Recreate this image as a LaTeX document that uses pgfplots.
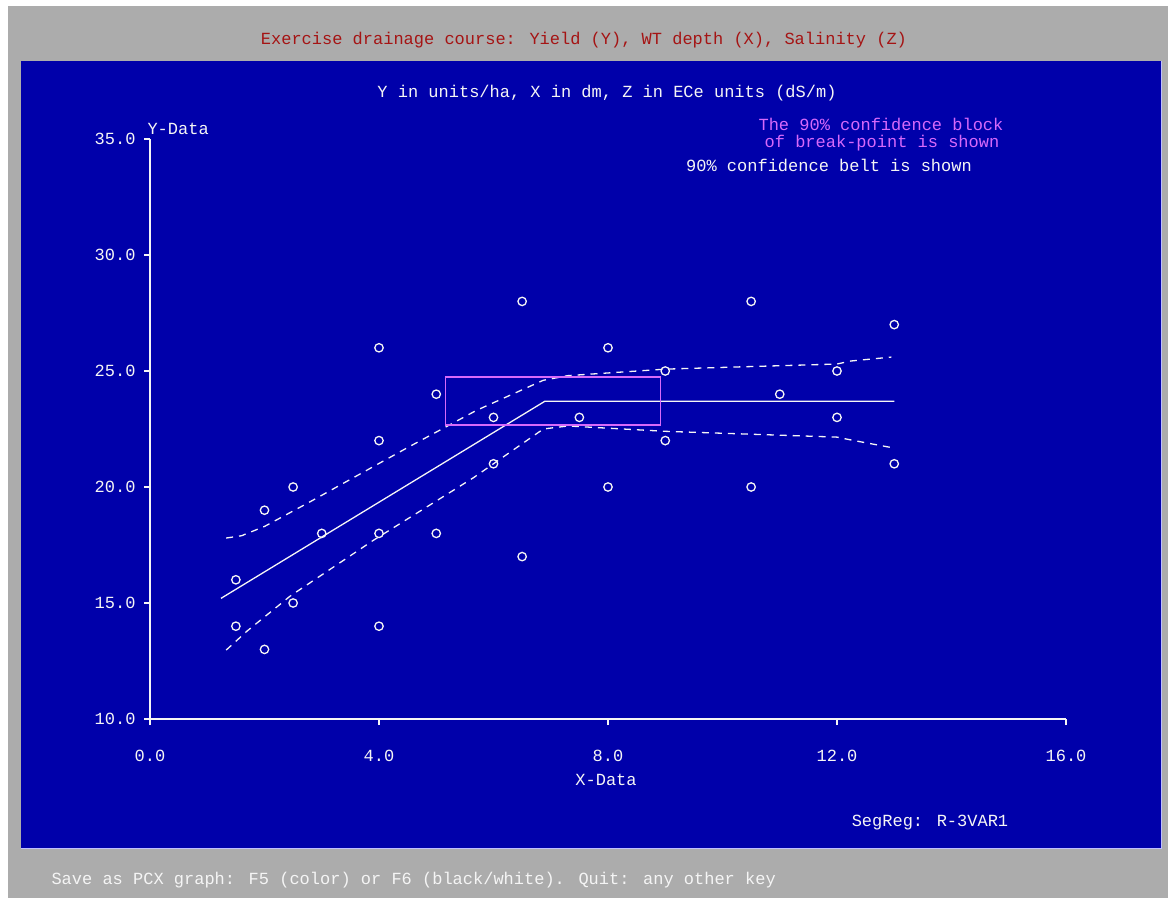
\documentclass[border=0pt]{standalone}
\usepackage{pgfplots}
\pgfplotsset{compat=1.18}
\usepackage{fontspec}
\setmainfont{Liberation Mono}
\definecolor{egablue}{RGB}{0,0,170}
\definecolor{egagray}{RGB}{172,172,172}
\definecolor{egared}{RGB}{165,20,20}
\definecolor{egamag}{RGB}{215,105,250}
\definecolor{egawhite}{RGB}{245,245,245}
\newcommand{\pf}{\fontsize{17}{20}\selectfont}
\begin{document}
\begin{tikzpicture}
\begin{scope}[x=1pt,y=1pt]
\fill[white] (0,0) rectangle (1168,898);
\fill[egagray] (8,0) rectangle (1168,892);
\fill[egablue] (21,50) rectangle (1161,837);
\draw[white!75!blue, line width=1.5pt] (21,49.5) -- (1161.5,49.5) -- (1161.5,837);
\node[egared, font=\pf] at (584,858) {Exercise drainage course: Yield (Y), WT depth (X), Salinity (Z)};
\node[egawhite, font=\pf] at (607,805) {Y in units/ha, X in dm, Z in ECe units (dS/m)};
\node[egawhite, font=\pf, anchor=west] at (144,769) {Y-Data};
\node[egamag, font=\pf] at (881,774) {The 90\% confidence block};
\node[egamag, font=\pf] at (882,755) {of break-point is shown};
\node[egawhite, font=\pf] at (829,733) {90\% confidence belt is shown};
\node[egawhite, font=\pf] at (606,118) {X-Data};
\node[egawhite, font=\pf] at (930,75) {SegReg: R-3VAR1};
\node[egawhite, font=\pf, anchor=west] at (48,18) {Save as PCX graph: F5 (color) or F6 (black/white). Quit: any other key};
\end{scope}
\begin{axis}[
  at={(150pt,179pt)}, anchor=south west,
  scale only axis, width=916pt, height=580pt,
  xmin=0, xmax=16, ymin=10, ymax=35,
  axis x line=bottom, axis y line=left,
  axis line style={-, egawhite, line width=1.5pt},
  xtick={0,4,8,12,16}, ytick={10,15,20,25,30,35},
  tick style={egawhite, line width=1.5pt},
  tick align=outside, major tick length=6pt,
  clip=false,
  every tick label/.append style={egawhite, font=\pf},
  xticklabel style={yshift=-22pt},
  yticklabel style={xshift=-5pt},
  /pgf/number format/.cd, fixed, fixed zerofill, precision=1, assume math mode=true
]
% observations
\addplot[only marks, mark=o, mark size=4.2pt, egawhite, line width=1.3pt] coordinates {
(1.5,16) (1.5,14) (2,19) (2,13) (2.5,20) (2.5,15) (3,18)
(4,26) (4,22) (4,18) (4,14) (5,24) (5,18) (6,23) (6,21)
(6.5,28) (6.5,17) (7.5,23) (8,26) (8,20) (9,25) (9,22)
(10.5,28) (10.5,20) (11,24) (12,25) (12,23) (13,27) (13,21)
};
% segmented regression line
\addplot[egawhite, line width=1.3pt] coordinates {(1.24,15.2) (6.9,23.7) (13.0,23.7)};
% confidence belt
\addplot[egawhite, line width=1.3pt, dash pattern=on 7pt off 6pt] coordinates {
(1.33,17.8) (1.6,17.9) (2.0,18.3) (2.75,19.3) (4.5,21.7) (5.7,23.3) (6.87,24.6)
(7.3,24.8) (9.0,25.08) (10.2,25.17) (12.0,25.3) (12.24,25.43) (12.95,25.6)};
\addplot[egawhite, line width=1.3pt, dash pattern=on 7pt off 6pt] coordinates {
(1.33,12.97) (1.7,13.8) (2.45,15.3) (3.9,17.7) (5.65,20.4) (6.87,22.5)
(7.3,22.63) (9.0,22.4) (10.2,22.3) (12.0,22.15) (12.3,22.0) (12.95,21.7)};
% confidence block of break-point
\addplot[egamag, line width=1.5pt] coordinates {
(5.16,22.67) (8.92,22.67) (8.92,24.75) (5.16,24.75) (5.16,22.67)};
\end{axis}
\end{tikzpicture}
\end{document}
